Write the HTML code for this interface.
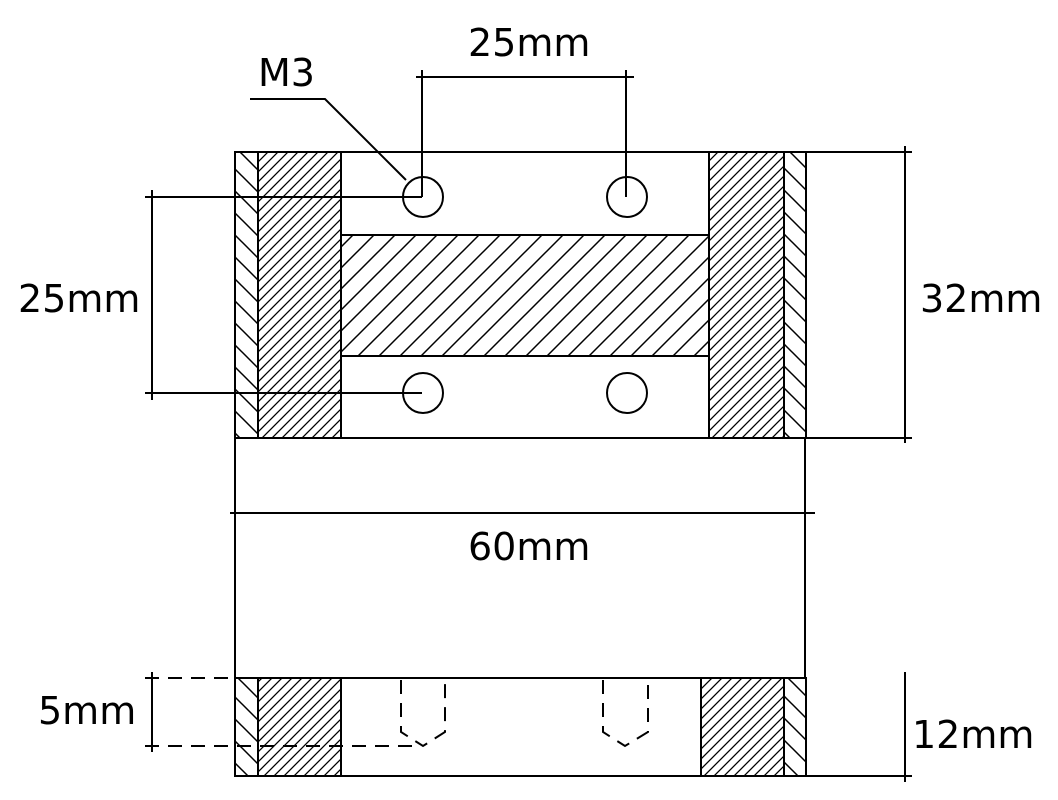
<!DOCTYPE html>
<html><head><meta charset="utf-8"><style>
html,body{margin:0;padding:0;background:#fff}
svg{display:block}
text{font-family:"DejaVu Sans","Liberation Sans",sans-serif;font-size:38px;fill:#000}
</style></head><body>
<svg width="1058" height="800" viewBox="0 0 1058 800" xmlns="http://www.w3.org/2000/svg">
<defs>
<pattern id="back" patternUnits="userSpaceOnUse" width="22" height="22">
<path d="M-2,-2 L24,24 M-2,20 L2,24 M20,-2 L24,2" stroke="#000" stroke-width="1.5"/>
</pattern>
<pattern id="fine" patternUnits="userSpaceOnUse" width="10" height="10">
<path d="M-1,11 L11,-1 M-1,1 L1,-1 M9,11 L11,9" stroke="#000" stroke-width="1.3"/>
</pattern>
<pattern id="wide" patternUnits="userSpaceOnUse" width="21" height="21">
<path d="M-1,22 L22,-1 M-1,1 L1,-1 M20,22 L22,20" stroke="#000" stroke-width="1.5"/>
</pattern>
</defs>
<g stroke="#000" stroke-width="2" fill="none">
<rect x="235" y="152" width="23" height="286" fill="url(#back)"/>
<rect x="258" y="152" width="83" height="286" fill="url(#fine)"/>
<rect x="341" y="235" width="368" height="121" fill="url(#wide)"/>
<rect x="709" y="152" width="75" height="286" fill="url(#fine)"/>
<rect x="784" y="152" width="22" height="286" fill="url(#back)"/>
<rect x="235" y="152" width="571" height="286"/>
<circle cx="423" cy="197" r="20" fill="#fff"/>
<circle cx="627" cy="197" r="20" fill="#fff"/>
<circle cx="423" cy="393" r="20" fill="#fff"/>
<circle cx="627" cy="393" r="20" fill="#fff"/>
<path d="M422,70 V197 M626,70 V197 M416,77 H634"/>
<path d="M250,99 H325 L406,180"/>
<path d="M145,197 H422 M145,393 H422 M152,190 V400"/>
<path d="M806,152 H912 M806,438 H912 M905,146 V443"/>
<path d="M235,438 V678 M805,438 V678 M230,513 H815"/>
<rect x="235" y="678" width="23" height="98" fill="url(#back)"/>
<rect x="258" y="678" width="83" height="98" fill="url(#fine)"/>
<rect x="701" y="678" width="83" height="98" fill="url(#fine)"/>
<rect x="784" y="678" width="22" height="98" fill="url(#back)"/>
<rect x="235" y="678" width="571" height="98"/>
<g stroke-dasharray="14,9">
<path d="M401,680 V732 L423,746 L445,732 V680"/>
<path d="M603,680 V732 L625,746 L648,732 V680"/>
<path d="M145,678 H235 M145,746 H420"/>
</g>
<path d="M152,672 V752"/>
<path d="M806,776 H912 M905,672 V782"/>
</g>
<text x="468" y="56">25mm</text>
<text x="258" y="86">M3</text>
<text x="18" y="312">25mm</text>
<text x="920" y="312">32mm</text>
<text x="468" y="560">60mm</text>
<text x="38" y="724">5mm</text>
<text x="912" y="748">12mm</text>
</svg>
</body></html>
